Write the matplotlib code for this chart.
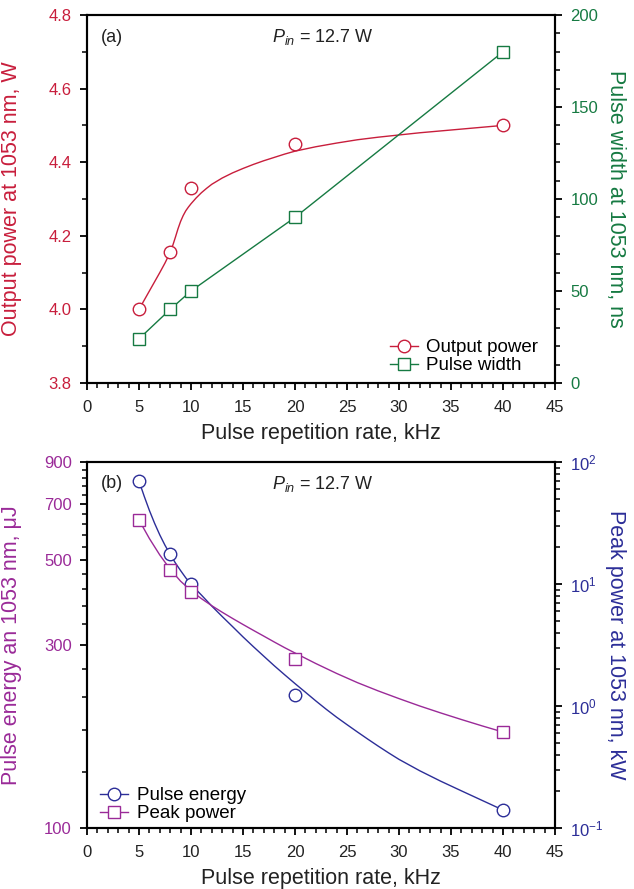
import matplotlib
matplotlib.use('Agg')
import matplotlib.pyplot as plt
from matplotlib.lines import Line2D
from matplotlib.ticker import FixedLocator, MultipleLocator, LogLocator, NullFormatter, FormatStrFormatter

plt.rcParams['font.family'] = ['Liberation Sans', 'DejaVu Sans']
plt.rcParams['mathtext.fontset'] = 'custom'
plt.rcParams['mathtext.rm'] = 'Liberation Sans'
plt.rcParams['mathtext.it'] = 'Liberation Sans:italic'

# measured points
rate = [5, 8, 10, 20, 40]
output_power = [4.0, 4.155, 4.33, 4.45, 4.5]          # W
pulse_width = [24, 40, 50, 90, 180]                    # ns
pulse_energy = [803, 518, 433, 222, 111.5]             # uJ
peak_power = [33.5, 13.0, 8.65, 2.45, 0.61]            # kW

# fitted curves
power_fit_x = [5, 6, 7, 7.5, 8, 8.25, 8.5, 8.75, 9, 9.25, 9.5, 9.75, 10, 10.5, 11, 11.5, 12,
               13, 14, 15, 16, 17, 18, 19, 20, 22, 24, 26, 28, 30, 32, 34, 36, 38, 40]
power_fit_y = [4.0, 4.05, 4.10, 4.126, 4.155, 4.174, 4.196, 4.219, 4.239, 4.255, 4.268, 4.278,
               4.287, 4.303, 4.317, 4.329, 4.340, 4.357, 4.371, 4.383, 4.394, 4.404, 4.413,
               4.422, 4.430, 4.442, 4.452, 4.461, 4.468, 4.474, 4.480, 4.485, 4.490, 4.495, 4.5]
energy_fit_x = [5, 5.5, 6, 6.5, 7, 7.5, 8, 8.5, 9, 9.5, 10, 11, 12, 13, 14, 15, 16, 17, 18, 19,
                20, 21, 22, 23, 24, 25, 26, 27, 28, 29, 30, 32, 34, 36, 38, 40]
energy_fit_y = [803, 733, 673, 623, 581, 546, 517, 491, 469, 449, 432, 405, 379, 356, 335, 315,
                297, 280.5, 265, 251, 238, 226, 214.5, 204, 194.5, 186, 178, 170.5, 163.5, 157,
                151, 141, 132.5, 125, 118, 111.4]
peak_fit_x = [5, 6, 7, 8, 9, 10, 11, 12, 13, 14, 15, 16, 17, 18, 19, 20, 22, 24, 26, 28, 30,
              32, 34, 36, 38, 40]
peak_fit_y = [33.5, 23.6, 17.3, 13.2, 10.55, 8.82, 7.59, 6.64, 5.87, 5.22, 4.66, 4.17, 3.74,
              3.35, 3.01, 2.72, 2.23, 1.85, 1.555, 1.33, 1.15, 1.0, 0.878, 0.775, 0.687, 0.612]

RED = '#c81e3c'
GREEN = '#167a42'
PURPLE = '#9a2a98'
BLUE = '#2c2e98'

TICK_FS = 12
LABEL_FS = 15.5
LEG_FS = 13.5

fig = plt.figure(figsize=(6.34, 8.89), dpi=100)
ax1 = fig.add_axes([0.1372, 0.5692, 0.7382, 0.4139])
ax3 = fig.add_axes([0.1372, 0.0686, 0.7382, 0.4117])


def style_axis(ax, left_color, right_ax, right_color):
    for a in (ax, right_ax):
        for s in a.spines.values():
            s.set_linewidth(1.5)
        a.tick_params(which='major', length=5, width=1.3, direction='out', pad=6,
                      labelsize=TICK_FS)
        a.tick_params(which='minor', length=3.5, width=1.1, direction='out')
    ax.tick_params(axis='y', colors='black', labelcolor=left_color)
    ax.tick_params(axis='x', labelcolor='#222222', pad=7)
    right_ax.tick_params(axis='y', colors='black', labelcolor=right_color)
    ax.set_xlim(0, 45)
    ax.xaxis.set_major_locator(MultipleLocator(5))
    ax.xaxis.set_minor_locator(MultipleLocator(1))
    ax.set_xlabel('Pulse repetition rate, kHz', fontsize=LABEL_FS, color='#222222', labelpad=6)


# ---- panel (a)
ax2 = ax1.twinx()
style_axis(ax1, RED, ax2, GREEN)
ax1.set_ylim(3.8, 4.8)
ax1.yaxis.set_major_locator(MultipleLocator(0.2))
ax1.yaxis.set_minor_locator(MultipleLocator(0.1))
ax1.yaxis.set_major_formatter(FormatStrFormatter('%.1f'))
ax2.set_ylim(0, 200)
ax2.yaxis.set_major_locator(MultipleLocator(50))
ax2.yaxis.set_minor_locator(MultipleLocator(10))

ax1.plot(power_fit_x, power_fit_y, color=RED, lw=1.0, zorder=2)
ax1.plot(rate, output_power, 'o', mfc='white', mec=RED, mew=1.0, ms=9, zorder=3)
ax2.plot(rate, pulse_width, '-s', color=GREEN, mfc='white', mec=GREEN, mew=1.0, ms=8, lw=1.0)

ax1.set_ylabel('Output power at 1053 nm, W', fontsize=LABEL_FS, color=RED)
ax1.yaxis.set_label_coords(-0.139, 0.5)
ax2.set_ylabel('Pulse width at 1053 nm, ns', fontsize=LABEL_FS, color=GREEN, rotation=270, va='center')
ax2.yaxis.set_label_coords(1.130, 0.5)

ax1.text(0.03, 0.94, '(a)', transform=ax1.transAxes, fontsize=13, color='#222222', va='center')
ax1.text(0.504, 0.94, r'$P_{in}$ = 12.7 W', transform=ax1.transAxes, fontsize=13,
         color='#222222', va='center', ha='center')

h1 = [Line2D([], [], color=RED, marker='o', mfc='white', mec=RED, ms=9, lw=1.0),
      Line2D([], [], color=GREEN, marker='s', mfc='white', mec=GREEN, ms=8, lw=1.0)]
ax2.legend(h1, ['Output power', 'Pulse width'], loc='upper left', bbox_to_anchor=(0.647, 0.119),
           frameon=False, fontsize=LEG_FS, handlelength=1.5, handletextpad=0.45,
           labelspacing=0.05, borderpad=0, borderaxespad=0)

# ---- panel (b)
ax4 = ax3.twinx()
style_axis(ax3, PURPLE, ax4, BLUE)
ax3.set_yscale('log')
ax3.set_ylim(100, 900)
ax3.yaxis.set_major_locator(FixedLocator([100, 300, 500, 700, 900]))
ax3.yaxis.set_minor_locator(FixedLocator([v for v in range(140, 900, 40) if v not in (300, 500, 700)]))
ax3.yaxis.set_major_formatter(FormatStrFormatter('%d'))
ax3.yaxis.set_minor_formatter(NullFormatter())
ax4.set_yscale('log')
ax4.set_ylim(0.1, 100)
ax4.yaxis.set_major_locator(LogLocator(base=10))
ax4.yaxis.set_minor_locator(LogLocator(base=10, subs=range(2, 10)))
ax4.yaxis.set_minor_formatter(NullFormatter())

ax3.plot(energy_fit_x, energy_fit_y, color=BLUE, lw=1.0, zorder=2)
ax3.plot(rate, pulse_energy, 'o', mfc='white', mec=BLUE, mew=1.0, ms=9, zorder=3)
ax4.plot(peak_fit_x, peak_fit_y, color=PURPLE, lw=1.0, zorder=2)
ax4.plot(rate, peak_power, 's', mfc='white', mec=PURPLE, mew=1.0, ms=8, zorder=3)

ax3.set_ylabel('Pulse energy an 1053 nm, μJ', fontsize=LABEL_FS, color=PURPLE)
ax3.yaxis.set_label_coords(-0.139, 0.5)
ax4.set_ylabel('Peak power at 1053 nm, kW', fontsize=LABEL_FS, color=BLUE, rotation=270, va='center')
ax4.yaxis.set_label_coords(1.130, 0.5)

ax3.text(0.03, 0.94, '(b)', transform=ax3.transAxes, fontsize=13, color='#222222', va='center')
ax3.text(0.504, 0.94, r'$P_{in}$ = 12.7 W', transform=ax3.transAxes, fontsize=13,
         color='#222222', va='center', ha='center')

h2 = [Line2D([], [], color=BLUE, marker='o', mfc='white', mec=BLUE, ms=9, lw=1.0),
      Line2D([], [], color=PURPLE, marker='s', mfc='white', mec=PURPLE, ms=8, lw=1.0)]
ax4.legend(h2, ['Pulse energy', 'Peak power'], loc='upper left', bbox_to_anchor=(0.028, 0.112),
           frameon=False, fontsize=LEG_FS, handlelength=1.5, handletextpad=0.45,
           labelspacing=0.05, borderpad=0, borderaxespad=0)

fig.savefig('out.png', dpi=100)
